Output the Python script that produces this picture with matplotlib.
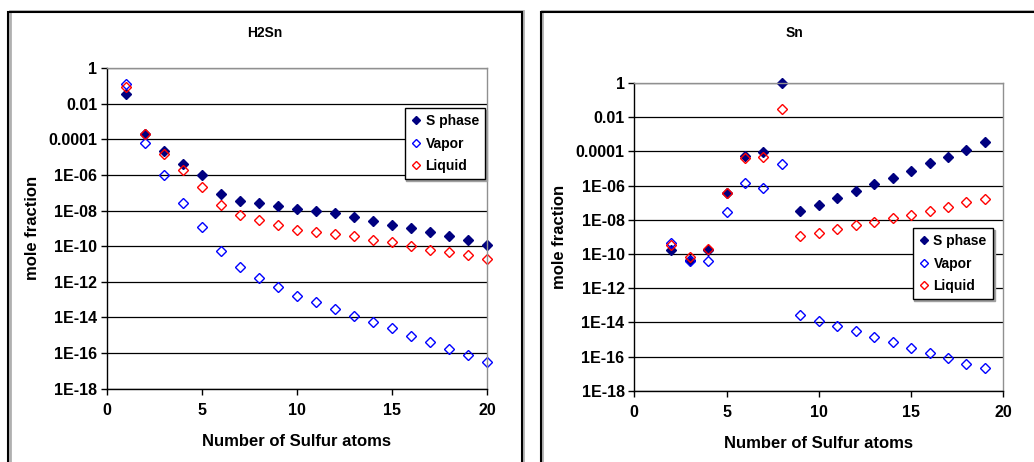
import matplotlib
matplotlib.use("Agg")
import matplotlib.pyplot as plt
from matplotlib.patches import Rectangle
from matplotlib.ticker import NullLocator

plt.rcParams['font.family'] = ['Liberation Sans', 'DejaVu Sans']
plt.rcParams['font.weight'] = 'bold'

# H2Sn panel
h2sn_x = list(range(1, 21))
h2sn_sphase = [3.6e-2, 1.9e-4, 2.2e-5, 4.0e-6, 1.0e-6, 8.7e-8, 3.4e-8, 2.5e-8, 1.7e-8, 1.25e-8,
               9.3e-9, 6.9e-9, 4.3e-9, 2.7e-9, 1.6e-9, 1.0e-9, 6.4e-10, 3.8e-10, 2.3e-10, 1.2e-10]
h2sn_vapor = [1.2e-1, 5.9e-5, 9.3e-7, 2.8e-8, 1.2e-9, 5.5e-11, 6.9e-12, 1.7e-12, 5.4e-13, 1.5e-13,
              7.1e-14, 3.1e-14, 1.2e-14, 5.6e-15, 2.5e-15, 9.5e-16, 4.2e-16, 1.8e-16, 7.5e-17, 3.3e-17]
h2sn_liquid = [9.0e-2, 2.1e-4, 1.5e-5, 1.8e-6, 2.2e-7, 2.1e-8, 5.7e-9, 3.1e-9, 1.6e-9, 8.5e-10,
               6.6e-10, 5.1e-10, 3.8e-10, 2.3e-10, 1.7e-10, 1.0e-10, 6.2e-11, 4.8e-11, 3.0e-11, 1.8e-11]

# Sn panel
sn_x = list(range(2, 20))
sn_sphase = [1.8e-10, 4.7e-11, 1.8e-10, 3.5e-7, 5.7e-5, 9.8e-5, 1.0, 3.3e-8, 7.8e-8, 2.0e-7,
             4.6e-7, 1.3e-6, 2.8e-6, 7.6e-6, 2.0e-5, 4.8e-5, 1.2e-4, 3.4e-4]
sn_vapor = [4.4e-10, 3.7e-11, 4.1e-11, 3.0e-8, 1.5e-6, 7.6e-7, 1.8e-5, 2.6e-14, 1.2e-14, 5.9e-15,
            3.2e-15, 1.4e-15, 7.3e-16, 3.1e-16, 1.6e-16, 8.6e-17, 3.7e-17, 2.0e-17]
sn_liquid = [3.2e-10, 6.7e-11, 2.0e-10, 3.5e-7, 4.0e-5, 4.6e-5, 3.2e-2, 1.1e-9, 1.7e-9, 2.9e-9,
             4.7e-9, 7.6e-9, 1.3e-8, 2.0e-8, 3.3e-8, 5.7e-8, 1.1e-7, 1.7e-7]

ytick_vals = [1, 1e-2, 1e-4, 1e-6, 1e-8, 1e-10, 1e-12, 1e-14, 1e-16, 1e-18]
ytick_labels = ['1', '0.01', '0.0001', '1E-06', '1E-08', '1E-10', '1E-12', '1E-14', '1E-16', '1E-18']
xtick_vals = [0, 5, 10, 15, 20]

W, H = 1034, 462
fig = plt.figure(figsize=(W / 100, H / 100), dpi=100)


def px(x0, y0, x1, y1):
    # pixel box (top-left origin) -> figure fraction [left, bottom, width, height]
    return [x0 / W, 1 - y1 / H, (x1 - x0) / W, (y1 - y0) / H]


def panel_border(x0, y0, x1, y1):
    for dx, col, lw in [(1.5, '#b0b0b0', 2.0), (0, 'black', 1.5)]:
        fig.patches.append(Rectangle((x0 / W + dx / W, 1 - (y1 - dx) / H), (x1 - x0) / W, (y1 - y0) / H,
                                     transform=fig.transFigure, fill=False, edgecolor=col, lw=lw))


panel_border(8, 12.5, 521.5, 480)
panel_border(541, 12, 1060, 480)


def draw(ax, x, sp, va, lq, leg_anchor):
    ax.plot(x, sp, 'D', color='#000080', ms=5, label='S phase', clip_on=False)
    ax.plot(x, va, 'D', color='#0000ff', mfc='none', mew=1.0, ms=5, label='Vapor', clip_on=False)
    ax.plot(x, lq, 'D', color='#ff0000', mfc='none', mew=1.0, ms=5, label='Liquid', clip_on=False)
    ax.set_yscale('log')
    ax.set_ylim(1e-18, 1)
    ax.set_xlim(0, 20)
    ax.set_yticks(ytick_vals)
    ax.set_yticklabels(ytick_labels)
    ax.yaxis.set_minor_locator(NullLocator())
    ax.set_xticks(xtick_vals)
    ax.tick_params(axis='both', labelsize=11.5, length=4, width=1, direction='out', color='black')
    ax.tick_params(axis='y', pad=3)
    ax.tick_params(axis='x', pad=6)
    ax.grid(axis='y', color='black', lw=0.9)
    ax.set_axisbelow(True)
    for s in ['left', 'bottom']:
        ax.spines[s].set_color('black')
        ax.spines[s].set_linewidth(1.0)
    for s in ['top', 'right']:
        ax.spines[s].set_color('#909090')
        ax.spines[s].set_linewidth(1.0)
    ax.set_xlabel('Number of Sulfur atoms', fontsize=12, fontweight='bold', labelpad=12)
    ax.set_ylabel('mole fraction', fontsize=12, fontweight='bold', labelpad=6)
    leg = ax.legend(loc='upper right', bbox_to_anchor=leg_anchor, borderaxespad=0,
                    numpoints=1, fancybox=False, framealpha=1, edgecolor='black',
                    prop={'size': 10, 'weight': 'bold'}, handlelength=0.7, handletextpad=0.35,
                    labelspacing=0.6, borderpad=0.45,
                    shadow={'color': '#a0a0a0', 'alpha': 1, 'ox': 1.2, 'oy': -1.2})
    leg.get_frame().set_linewidth(1.0)
    for h in leg.legend_handles:
        h.set_markersize(4)


ax1 = fig.add_axes(px(107, 68, 487, 388.7))
draw(ax1, h2sn_x, h2sn_sphase, h2sn_vapor, h2sn_liquid, (0.995, 0.875))
fig.text(265 / W, 1 - 33 / H, 'H2Sn', ha='center', va='center', fontsize=10, fontweight='bold')

ax2 = fig.add_axes(px(634.3, 83, 1003.3, 390.7))
draw(ax2, sn_x, sn_sphase, sn_vapor, sn_liquid, (0.972, 0.529))
fig.text(794 / W, 1 - 33 / H, 'Sn', ha='center', va='center', fontsize=10, fontweight='bold')

fig.savefig('out.png', dpi=100)
